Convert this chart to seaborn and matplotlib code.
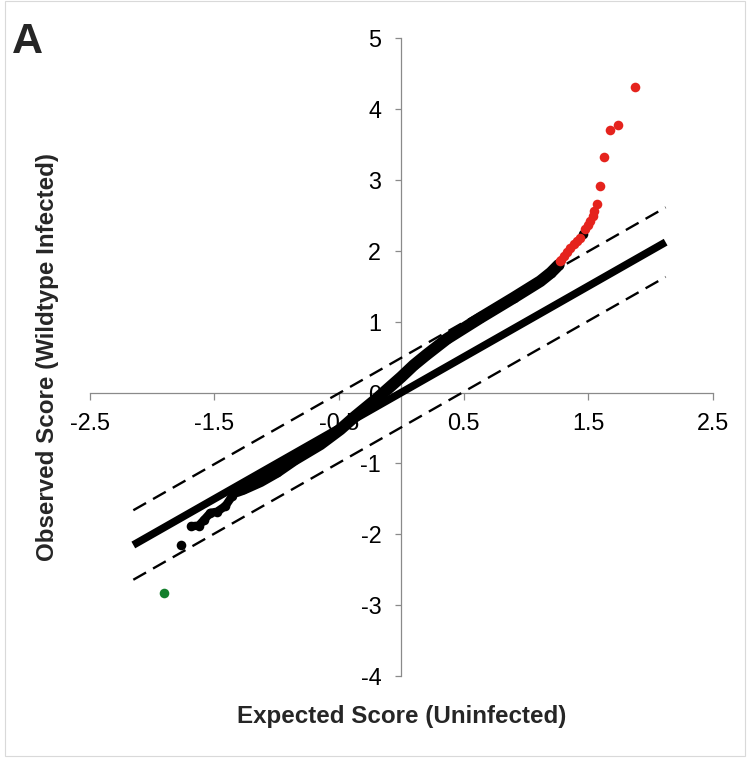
import matplotlib
matplotlib.use("Agg")
import matplotlib.pyplot as plt
import matplotlib.patches as mpatches
import seaborn as sns
import pandas as pd

# ---- data ----
black_x = [-1.767, -1.684, -1.625, -1.585, -1.532, -1.478, -1.411, -1.358, -1.318,
           -1.27, -1.13, -1.0, -0.86, -0.65, -0.49, -0.38, -0.20, 0.0, 0.099,
           0.2, 0.366, 0.634, 0.90, 1.115, 1.20, 1.262]
black_y = [-2.144, -1.886, -1.876, -1.80, -1.697, -1.680, -1.600, -1.462, -1.39,
           -1.36, -1.25, -1.12, -0.95, -0.73, -0.52, -0.35, -0.09, 0.22, 0.385,
           0.53, 0.757, 1.053, 1.335, 1.57, 1.69, 1.80]
black_extra_x = [1.457]
black_extra_y = [2.228]
red_x = [1.275, 1.281, 1.302, 1.329, 1.355, 1.382, 1.409, 1.43, 1.476, 1.497,
         1.516, 1.534, 1.548, 1.569, 1.590, 1.625, 1.670, 1.735, 1.871]
red_y = [1.85, 1.865, 1.92, 1.98, 2.04, 2.087, 2.134, 2.18, 2.30, 2.355,
         2.416, 2.487, 2.557, 2.656, 2.91, 3.32, 3.70, 3.776, 4.31]
green_x = [-1.90]
green_y = [-2.825]

ref_x = [-2.15, 2.12]
band_offset = 0.49

x_ticks = [-2.5, -1.5, -0.5, 0.5, 1.5, 2.5]
x_tick_labels = ["-2.5", "-1.5", "-0.5", "0.5", "1.5", "2.5"]
y_ticks = [-4, -3, -2, -1, 0, 1, 2, 3, 4, 5]
y_tick_labels = ["-4", "-3", "-2", "-1", "0", "1", "2", "3", "4", "5"]

x_label = "Expected Score (Uninfected)"
y_label = "Observed Score (Wildtype Infected)"
panel_label = "A"

# ---- styling ----
sns.set_theme(style="white")
plt.rcParams["font.family"] = ["Liberation Sans", "DejaVu Sans"]

W, H = 752, 761
fig = plt.figure(figsize=(W / 100, H / 100), dpi=100)
ax = fig.add_axes([89.7 / W, 1 - 676.2 / H, (713 - 89.7) / W, (676.2 - 37.9) / H])

df_black = pd.DataFrame({"x": black_x, "y": black_y})
df_red = pd.DataFrame({"x": red_x, "y": red_y})
df_green = pd.DataFrame({"x": green_x, "y": green_y})
df_bx = pd.DataFrame({"x": black_extra_x, "y": black_extra_y})
df_ref = pd.DataFrame({"x": ref_x, "y": ref_x})
df_up = pd.DataFrame({"x": ref_x, "y": [v + band_offset for v in ref_x]})
df_lo = pd.DataFrame({"x": ref_x, "y": [v - band_offset for v in ref_x]})

# reference lines
for d in (df_up, df_lo):
    sns.lineplot(data=d, x="x", y="y", ax=ax, color="black", lw=1.7,
                 sort=False, estimator=None, zorder=3)
for l in ax.get_lines():
    l.set_dashes((6.2, 3.4))
    l.set_solid_capstyle("butt")
sns.lineplot(data=df_ref, x="x", y="y", ax=ax, color="black", lw=5.5,
             sort=False, estimator=None, zorder=3)
ax.get_lines()[-1].set_solid_capstyle("butt")

# black observed band
tail = df_black.iloc[1:9]
main = df_black.iloc[8:]
sns.lineplot(data=tail, x="x", y="y", ax=ax, color="black", lw=6.0,
             sort=False, estimator=None, zorder=4)
sns.lineplot(data=main, x="x", y="y", ax=ax, color="black", lw=8.5,
             sort=False, estimator=None, zorder=4)
for l in ax.get_lines()[-2:]:
    l.set_solid_capstyle("round")
    l.set_solid_joinstyle("round")
sns.scatterplot(data=df_black, x="x", y="y", ax=ax, color="black", s=48,
                linewidth=0, zorder=5)
sns.scatterplot(data=df_bx, x="x", y="y", ax=ax, color="black", s=48,
                linewidth=0, zorder=5)
sns.scatterplot(data=df_red, x="x", y="y", ax=ax, color="#e5231d", s=48,
                linewidth=0, zorder=6)
sns.scatterplot(data=df_green, x="x", y="y", ax=ax, color="#137f2c", s=48,
                linewidth=0, zorder=6)

# axes
ax.set_xlim(-2.5, 2.5)
ax.set_ylim(-4, 5)
ax.set_xlabel("")
ax.set_ylabel("")
ax.set_axisbelow(True)
for s in ("top", "right"):
    ax.spines[s].set_visible(False)
for s in ("left", "bottom"):
    ax.spines[s].set_position(("data", 0))
    ax.spines[s].set_color("#8a8a8a")
    ax.spines[s].set_linewidth(0.9)
    ax.spines[s].set_zorder(0.5)
ax.set_xticks(x_ticks)
ax.set_xticklabels(x_tick_labels)
ax.set_yticks(y_ticks)
ax.set_yticklabels(y_tick_labels)
ax.tick_params(axis="x", direction="out", length=5, width=0.9, color="#8a8a8a",
               pad=9, labelsize=16.8, labelcolor="black", bottom=True)
ax.tick_params(axis="y", direction="out", length=4.5, width=0.9, color="#8a8a8a",
               pad=10, labelsize=16.8, labelcolor="black", left=True)
ax.grid(False)
ax.patch.set_alpha(0)

ax.text(0.5, -(723.3 - 676.2) / 638.3, x_label, transform=ax.transAxes,
        ha="center", va="baseline", fontsize=17.4, fontweight="bold")
ax.text(-(89.7 - 53.7) / 623.3, 0.5, y_label, transform=ax.transAxes,
        ha="center", va="baseline", rotation=90, rotation_mode="anchor",
        fontsize=17.4, fontweight="bold")
fig.text(12 / W, 1 - 53 / H, panel_label, ha="left", va="baseline",
         fontsize=31, fontweight="bold")

fig.patches.append(mpatches.Rectangle((5 / W, 1 - 756 / H), 740 / W, 755 / H,
                                      transform=fig.transFigure, fill=False,
                                      edgecolor="#d9d9d9", lw=0.8))

fig.savefig("out.png", dpi=100)
